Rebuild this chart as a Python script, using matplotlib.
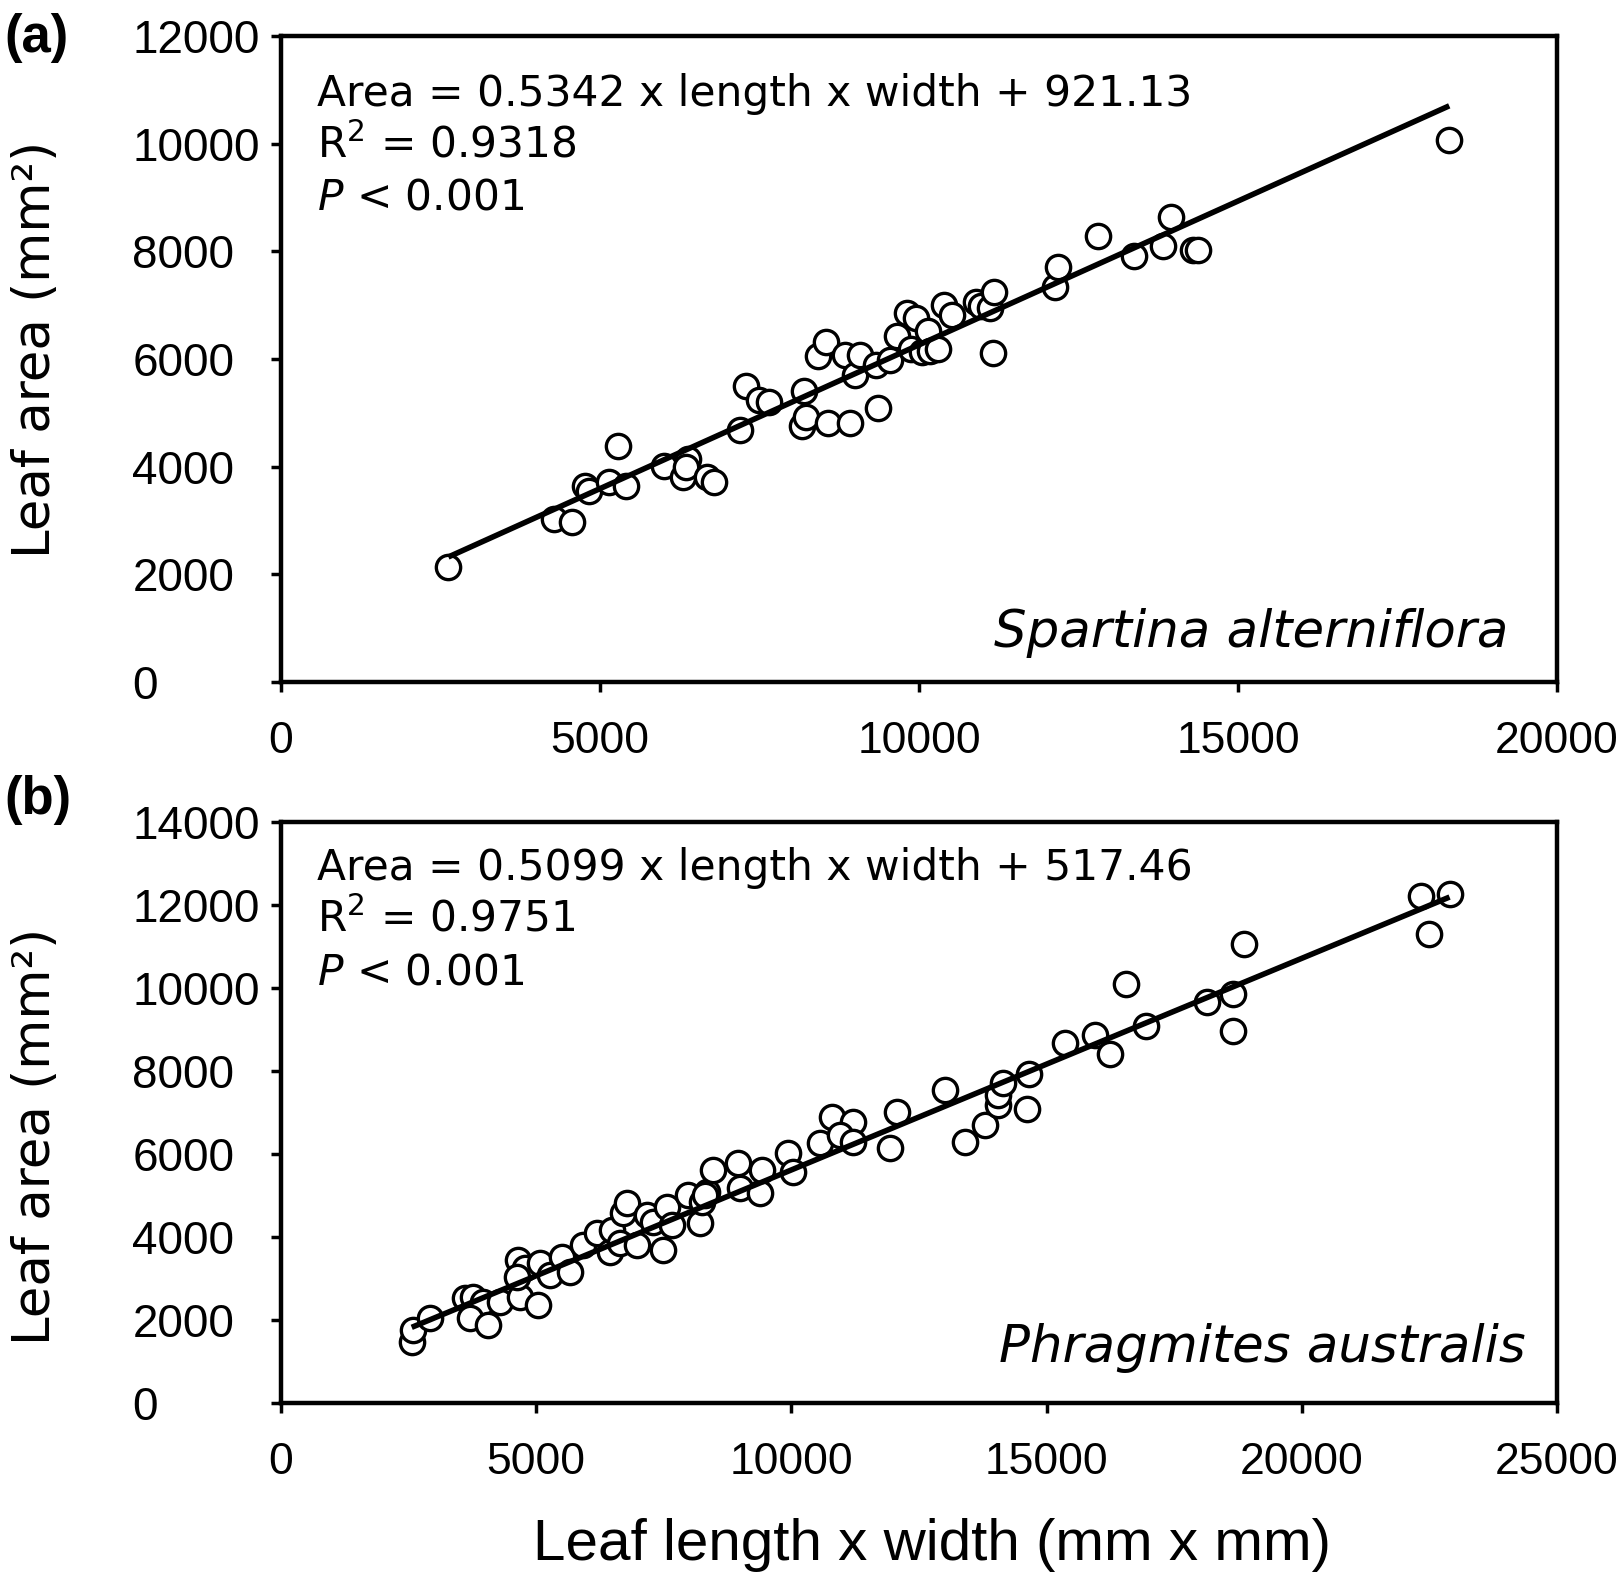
import matplotlib
matplotlib.use("Agg")
import matplotlib.pyplot as plt
import numpy as np

# ---------------- data ----------------
a_x = [2623, 4274, 4566, 4760, 4830, 5148, 5278, 5407, 6006, 6298,
       6379, 6350, 6670, 6784, 7188, 7286, 7496, 7642, 8192, 8160,
       8225, 8419, 8548, 8581, 8840, 8921, 9002, 9083, 9358, 9325,
       9552, 9649, 9811, 9876, 9957, 10054, 10135, 10167, 10297, 10394,
       10524, 10896, 10977, 11106, 11171, 11155, 12126, 12174, 12806, 13372,
       13826, 13956, 14296, 14376, 18311]
a_y = [2131, 3034, 2976, 3648, 3550, 3706, 4378, 3648, 4013, 3802,
       4147, 4000, 3802, 3706, 4685, 5491, 5242, 5203, 5414, 4762,
       4915, 6048, 6317, 4819, 6067, 4819, 5702, 6067, 5088, 5894,
       5990, 6432, 6854, 6182, 6758, 6125, 6528, 6144, 6182, 7008,
       6816, 7066, 6989, 6950, 7238, 6106, 7334, 7718, 8294, 7910,
       8102, 8640, 8026, 8026, 10061]
a_slope, a_intercept = 0.5342, 921.13

b_x = [2561, 2593, 2920, 3606, 3769, 3965, 3704, 4063, 4291, 4650,
       4781, 4683, 4618, 5042, 5075, 5271, 5500, 5663, 5924, 6186,
       6447, 6480, 6643, 6708, 6774, 6970, 7166, 7295, 7491, 7558,
       7656, 7981, 8210, 8243, 8342, 8471, 8961, 8994, 9386, 9419,
       9941, 8308, 10039, 10562, 10791, 11214, 10954, 11214, 12065, 11934,
       13011, 13403, 13795, 14056, 14056, 14154, 14616, 14656, 15365, 15952,
       16235, 16559, 16943, 18138, 18643, 18643, 18866, 22328, 22490, 22895]
b_y = [1476, 1757, 2040, 2522, 2561, 2440, 2040, 1878, 2440, 3445,
       3245, 2561, 3043, 2360, 3366, 3084, 3525, 3163, 3807, 4089,
       3646, 4169, 3848, 4571, 4812, 3807, 4530, 4369, 3686, 4730,
       4289, 5012, 4330, 4851, 5092, 5615, 5777, 5174, 5053, 5615,
       6018, 5012, 5574, 6259, 6900, 6780, 6459, 6298, 7021, 6138,
       7544, 6298, 6700, 7182, 7423, 7706, 7074, 7921, 8669, 8868,
       8420, 10089, 9092, 9665, 9864, 8968, 11060, 12206, 11309, 12256]
b_slope, b_intercept = 0.5099, 517.46

a_xticks = [0, 5000, 10000, 15000, 20000]
a_yticks = [0, 2000, 4000, 6000, 8000, 10000, 12000]
b_xticks = [0, 5000, 10000, 15000, 20000, 25000]
b_yticks = [0, 2000, 4000, 6000, 8000, 10000, 12000, 14000]

a_eq = ["Area = 0.5342 x length x width + 921.13", "R$^{2}$ = 0.9318", "$P$ < 0.001"]
b_eq = ["Area = 0.5099 x length x width + 517.46", "R$^{2}$ = 0.9751", "$P$ < 0.001"]
a_species = "Spartina alterniflora"
b_species = "Phragmites australis"
ylabel = "Leaf area (mm²)"
xlabel = "Leaf length x width (mm x mm)"

# ---------------- figure ----------------
W, H = 1619, 1577
DPI = 100
fig = plt.figure(figsize=(W / DPI, H / DPI), dpi=DPI)
plt.rcParams['mathtext.fontset'] = 'dejavusans'


def fx(px):
    return px / W


def fy(py):
    return 1 - py / H


def make_panel(rect, xs, ys, slope, intercept, xlim, ylim, xticks, yticks):
    ax = fig.add_axes(rect)
    ax.scatter(xs, ys, s=17.5 ** 2, facecolor='white', edgecolor='black',
               linewidths=2.4, zorder=2)
    xl = np.array([min(xs), max(xs)])
    ax.plot(xl, slope * xl + intercept, color='black', lw=4.0, zorder=3,
            solid_capstyle='butt')
    ax.set_xlim(*xlim)
    ax.set_ylim(*ylim)
    ax.set_xticks(xticks)
    ax.set_yticks(yticks)
    ax.set_xticklabels([str(t) for t in xticks], family='Liberation Sans', fontsize=32)
    ax.set_yticklabels([str(t) for t in yticks], family='Liberation Sans', fontsize=33)
    for sp in ax.spines.values():
        sp.set_linewidth(3.2)
    ax.tick_params(direction='out', length=7, width=2.5, top=False, right=False)
    ax.tick_params(axis='x', pad=21)
    ax.tick_params(axis='y', pad=100)
    for lab in ax.get_yticklabels():
        lab.set_horizontalalignment('left')
    return ax


# panel a: axes px 281..1557 x, 36..682 y
rect_a = [fx(281), fy(682), fx(1557 - 281), (682 - 36) / H]
ax_a = make_panel(rect_a, a_x, a_y, a_slope, a_intercept, (0, 20000), (0, 12000),
                  a_xticks, a_yticks)
# panel b: axes px 281..1557 x, 822..1403 y
rect_b = [fx(281), fy(1403), fx(1557 - 281), (1403 - 822) / H]
ax_b = make_panel(rect_b, b_x, b_y, b_slope, b_intercept, (0, 25000), (0, 14000),
                  b_xticks, b_yticks)

# equation texts
for lines, base in ((a_eq, 106), (b_eq, 880)):
    for i, t in enumerate(lines):
        fig.text(fx(317), fy(base + i * 52), t, fontsize=30.5, family='DejaVu Sans',
                 ha='left', va='baseline')

# species
fig.text(fx(1508), fy(647), a_species, fontsize=37, family='DejaVu Sans',
         style='italic', ha='right', va='baseline')
fig.text(fx(1526), fy(1362), b_species, fontsize=37, family='DejaVu Sans',
         style='italic', ha='right', va='baseline')

# panel labels
fig.text(fx(4), fy(38), "(a)", fontsize=38, fontweight='bold',
         family='Liberation Sans', ha='left', va='center')
fig.text(fx(4), fy(800), "(b)", fontsize=38, fontweight='bold',
         family='Liberation Sans', ha='left', va='center')

# y labels
fig.text(fx(36), fy(349), ylabel, fontsize=37, family='DejaVu Sans',
         rotation=90, ha='center', va='center')
fig.text(fx(36), fy(1136), ylabel, fontsize=37, family='DejaVu Sans',
         rotation=90, ha='center', va='center')

# x label
fig.text(fx(932), fy(1560), xlabel, fontsize=42, family='Liberation Sans',
         ha='center', va='baseline')

fig.savefig("out.png", dpi=DPI)
